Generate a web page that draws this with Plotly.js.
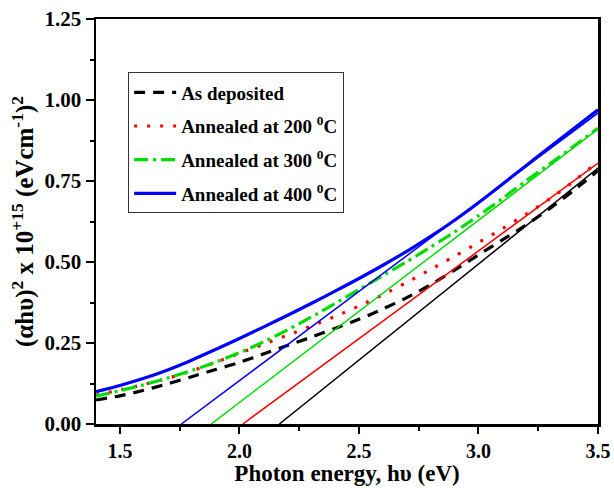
<!DOCTYPE html>
<html>
<head>
<meta charset="utf-8">
<script src="https://cdn.plot.ly/plotly-3.0.1.min.js"></script>
<style>html,body{margin:0;padding:0;background:#fff;} #chart{width:614px;height:488px;}</style>
</head>
<body>
<div id="chart"></div>
<script>
// Photon energy grid (eV)
const energy = [1.4,1.5,1.6,1.7,1.8,1.9,2.0,2.1,2.2,2.3,2.4,2.5,2.6,2.7,2.8,2.9,3.0,3.1,3.2,3.3,3.4,3.5];
// (alpha h nu)^2 x 10^15 for each sample
const asDeposited = [0.074,0.087,0.104,0.124,0.146,0.168,0.190,0.216,0.242,0.268,0.295,0.323,0.355,0.390,0.430,0.475,0.522,0.568,0.615,0.666,0.722,0.782];
const annealed200 = [0.089,0.105,0.122,0.141,0.164,0.190,0.218,0.246,0.274,0.302,0.332,0.364,0.399,0.437,0.477,0.518,0.560,0.603,0.648,0.696,0.750,0.810];
const annealed300 = [0.086,0.103,0.121,0.142,0.165,0.191,0.220,0.253,0.290,0.330,0.372,0.415,0.458,0.501,0.546,0.593,0.643,0.696,0.751,0.804,0.858,0.913];
const annealed400 = [0.100,0.119,0.141,0.167,0.197,0.230,0.264,0.299,0.335,0.372,0.410,0.449,0.490,0.533,0.579,0.629,0.683,0.740,0.798,0.856,0.913,0.970];
// Linear extrapolation (Tauc) fits: band gap intercept and value at 3.5 eV
const bandGap = [2.167, 2.014, 1.882, 1.757];
const fitEndX = [3.5, 3.5, 3.5, 3.5];
const fitEndY = [0.790, 0.805, 0.910, 0.960];
const names = ['As deposited','Annealed at 200 <sup>0</sup>C','Annealed at 300 <sup>0</sup>C','Annealed at 400 <sup>0</sup>C'];
const colors = ['#000000','#ff0000','#00dd00','#0000ff'];
const dashes = ['11px,8px','3px,10px','14px,5px,3px,5px','solid'];
const series = [asDeposited, annealed200, annealed300, annealed400];

const traces = [];
series.forEach((ys,i)=>{
  traces.push({x: energy, y: ys, type:'scatter', mode:'lines', name: names[i],
    legendgroup:'g'+i, line:{color:colors[i], width:3.2, dash:dashes[i], shape:'spline', smoothing:0.8}});
});
series.forEach((ys,i)=>{
  traces.push({x:[bandGap[i], fitEndX[i]], y:[0, fitEndY[i]], type:'scatter', mode:'lines',
    showlegend:false, hoverinfo:'skip', line:{color:colors[i], width:1.5}});
});

const fam = 'Liberation Serif';
const layout = {
  width:614, height:488,
  margin:{l:96, r:16, t:19, b:64},
  paper_bgcolor:'#fff', plot_bgcolor:'#fff',
  font:{family:fam, color:'#000'},
  showlegend:true,
  legend:{x:0.064, y:0.868, xanchor:'left', yanchor:'top', bordercolor:'#333', borderwidth:1,
    bgcolor:'#fff', font:{family:fam, size:19, weight:'bold', color:'#000'},
    tracegroupgap:6, traceorder:'grouped', itemwidth:42},
  xaxis:{range:[1.4,3.5], dtick:0.5, tick0:1.5, tickformat:'.1f', showgrid:false, zeroline:false,
    showline:true, linecolor:'#000', linewidth:2.5, mirror:true,
    ticks:'outside', ticklen:7, tickwidth:2, tickcolor:'#000',
    minor:{dtick:0.25, ticks:'outside', ticklen:4, tickwidth:2, tickcolor:'#000'},
    tickfont:{family:fam, size:20, weight:'bold', color:'#000'},
    title:{text:'Photon energy, h\u03c5 (eV)', standoff:0, font:{family:fam, size:23, weight:'bold', color:'#000'}}},
  yaxis:{range:[0,1.25], dtick:0.25, tickformat:'.2f', showgrid:false, zeroline:false,
    showline:true, linecolor:'#000', linewidth:2.5, mirror:true,
    ticks:'outside', ticklen:8, tickwidth:2, tickcolor:'#000',
    minor:{dtick:0.125, ticks:'outside', ticklen:4, tickwidth:2, tickcolor:'#000'},
    tickfont:{family:fam, size:21, weight:'bold', color:'#000'},
    title:{text:'(\u03b1h\u03c5)<sup>2</sup> x 10<sup>+15</sup> (eVcm<sup>-1</sup>)<sup>2</sup>', standoff:4,
      font:{family:fam, size:25, weight:'bold', color:'#000'}}}
};
Plotly.newPlot('chart', traces, layout, {displayModeBar:false, staticPlot:true});
</script>
</body>
</html>
